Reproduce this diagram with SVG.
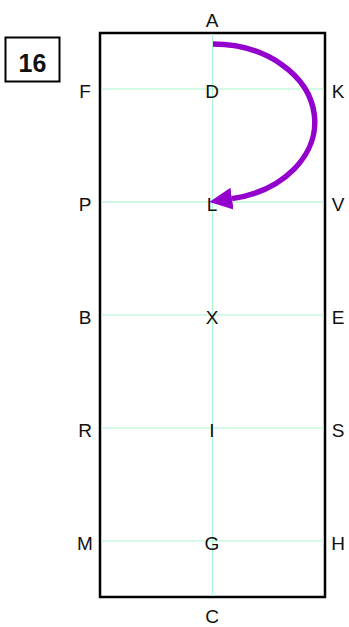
<svg xmlns="http://www.w3.org/2000/svg" width="349" height="627" viewBox="0 0 349 627">
<style>
text{font-family:"Liberation Sans",Arial,sans-serif;font-size:19px;fill:#111;text-anchor:middle}
.grid{stroke:#aef5d2;stroke-width:1.2;fill:none}
.frame{stroke:#000;stroke-width:2.5;fill:#fff}
</style>
<defs>
<marker id="ah" markerUnits="userSpaceOnUse" markerWidth="24" markerHeight="24" viewBox="0 -11 22 22" refX="0" refY="0" orient="auto">
<path d="M0,-10 L21,0 L0,10 z" fill="#9400cc"/>
</marker>
</defs>
<g id="label">
<rect x="5.5" y="37.5" width="54" height="44" fill="#fff" stroke="#000" stroke-width="2"/>
<text x="32.5" y="72" style="font-weight:bold;font-size:25px">16</text>
</g>
<g id="frame">
<rect class="frame" x="100" y="33" width="225" height="564"/>
</g>
<g id="grid">
<line class="grid" x1="212.5" y1="34" x2="212.5" y2="596"/>
<line class="grid" x1="101" y1="89" x2="324" y2="89"/>
<line class="grid" x1="101" y1="202" x2="324" y2="202" style="stroke:#a4ecc8"/>
<line class="grid" x1="101" y1="315" x2="324" y2="315"/>
<line class="grid" x1="101" y1="428" x2="324" y2="428"/>
<line class="grid" x1="101" y1="541" x2="324" y2="541"/>
</g>
<g id="labels">
<text x="212" y="27">A</text>
<text x="212" y="623">C</text>
<text x="85" y="98">F</text><text x="212" y="98">D</text><text x="338" y="98">K</text>
<text x="85" y="211">P</text><text x="212" y="211">L</text><text x="338" y="211">V</text>
<text x="85" y="324">B</text><text x="212" y="324">X</text><text x="338" y="324">E</text>
<text x="85" y="437">R</text><text x="212" y="437">I</text><text x="338" y="437">S</text>
<text x="85" y="550">M</text><text x="212" y="550">G</text><text x="338" y="550">H</text>
</g>
<g id="connectors">
<path d="M213,44 A102,78 0 0 1 232,198.6" fill="none" stroke="#9400cc" stroke-width="5.5" marker-end="url(#ah)"/>
</g>
</svg>
